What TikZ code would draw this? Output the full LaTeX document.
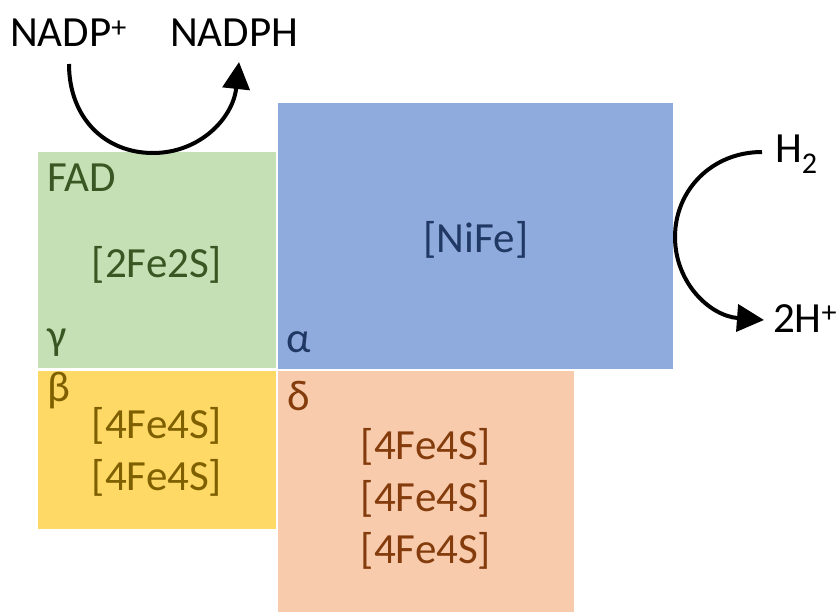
\documentclass[tikz,border=0pt]{standalone}
\usepackage{fontspec}
\setmainfont{Carlito}
\usetikzlibrary{arrows.meta}
\definecolor{gfill}{HTML}{C5E0B4}
\definecolor{gtext}{HTML}{385723}
\definecolor{bfill}{HTML}{8FAADC}
\definecolor{btext}{HTML}{203864}
\definecolor{yfill}{HTML}{FFD966}
\definecolor{ytext}{HTML}{7F6000}
\definecolor{pfill}{HTML}{F8CBAD}
\definecolor{ptext}{HTML}{843C0C}
\begin{document}
\begin{tikzpicture}[x=1pt,y=-1pt,
  font=\fontsize{43}{51}\selectfont,
  box/.style={draw=none, inner sep=0pt, outer sep=0pt, anchor=north west},
  lbl/.style={inner sep=0pt, outer sep=0pt, anchor=base west},
  clbl/.style={inner sep=0pt, outer sep=0pt, anchor=base},
  rxn/.style={line width=4pt, -{Triangle[length=27pt,width=27pt]}}]
\useasboundingbox (0,0) rectangle (840,612);
% subunit boxes
\node[box, fill=gfill, minimum width=238pt, minimum height=216pt] (gbox) at (38,152) {};
\node[box, fill=bfill, minimum width=395pt, minimum height=266pt] (abox) at (278,103) {};
\node[box, fill=yfill, minimum width=238pt, minimum height=158pt] (ybox) at (38,371) {};
\node[box, fill=pfill, minimum width=296pt, minimum height=241pt] (pbox) at (278,371) {};
% labels
\node[lbl, text=gtext] (fad) at (47,192) {FAD};
\node[clbl, text=gtext] (fes2) at (157,277) {[2Fe2S]};
\node[lbl, text=gtext] (gam) at (47,349) {γ};
\node[clbl, text=btext] (nife) at (476,252) {[NiFe]};
\node[lbl, text=btext] (alp) at (286,352) {α};
\node[lbl, text=ytext] (bet) at (47,401) {β};
\node[clbl, text=ytext] (yfs1) at (157,438) {[4Fe4S]};
\node[clbl, text=ytext] (yfs2) at (157,490) {[4Fe4S]};
\node[lbl, text=ptext] (del) at (287,410) {δ};
\node[clbl, text=ptext] (pfs1) at (426,459) {[4Fe4S]};
\node[clbl, text=ptext] (pfs2) at (426,511) {[4Fe4S]};
\node[clbl, text=ptext] (pfs3) at (426,563) {[4Fe4S]};
% substrates
\node[lbl] (nadp) at (10,47) {NADP\textsuperscript{+}};
\node[lbl] (nadph) at (170,47) {NADPH};
\node[lbl] (h2) at (775,163) {H\textsubscript{2}};
\node[lbl] (hp) at (773,332) {2H\textsuperscript{+}};
% reaction arrows
\coordinate (n1) at (69,64);
\coordinate (n2) at (153,153);
\coordinate (n3) at (239,62);
\draw[rxn] (n1) .. controls (69,118) and (105,153) .. (n2)
  .. controls (200,153) and (233,118) .. (n3);
\coordinate (h1) at (762,152);
\coordinate (h2p) at (675,237);
\coordinate (h3) at (764,320);
\draw[rxn] (h1) .. controls (712,152) and (675,190) .. (h2p)
  .. controls (675,283) and (710,316) .. (h3);
\end{tikzpicture}
\end{document}
